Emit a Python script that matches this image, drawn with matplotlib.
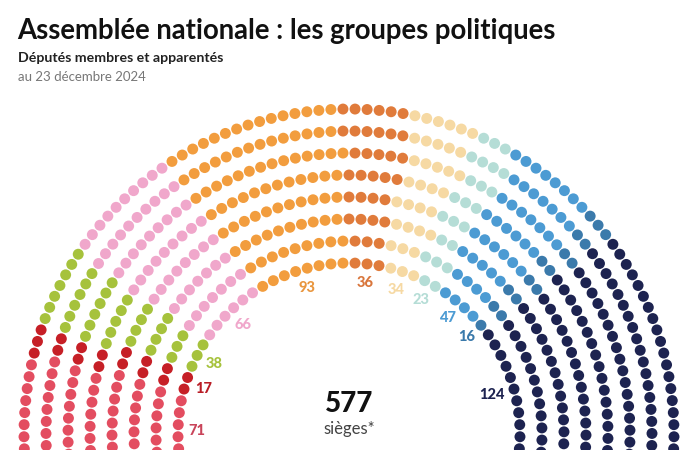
import numpy as np
import matplotlib.pyplot as plt

plt.rcParams['font.family'] = ['Lato', 'DejaVu Sans']

# groups, left to right
groups = ['LFI', 'GDR', 'EcoS', 'SOC', 'EPR', 'Dem', 'HOR', 'LIOT', 'DR', 'UDR', 'RN', 'NI']
seats = [71, 17, 38, 66, 93, 36, 34, 23, 47, 16, 124, 12]
colors = ['#e34d60', '#c61f26', '#a6c23c', '#f0a7cb', '#f29d3e', '#e07b3b',
          '#f6d9a3', '#b5ddd6', '#4c9bd3', '#3b7aab', '#1d2350', '#b5b5b5']
label_colors = ['#c9445a', '#b91d26', '#a6c23c', '#f0a7cb', '#e9963e', '#d9763c',
                '#f6d9a3', '#b5ddd6', '#4c9bd3', '#3b7aab', '#1d2350', '#b5b5b5']
show_label = [True] * 11 + [False]

total = sum(seats)
n_rows = 8
r_in, r_out = 171, 325
a_start, a_end = np.radians(189), np.radians(-9)

# seats per row proportional to radius (largest remainder)
radii = np.linspace(r_in, r_out, n_rows)
raw = total * radii / radii.sum()
per_row = np.floor(raw).astype(int)
rest = total - per_row.sum()
per_row[np.argsort(-(raw - per_row))[:rest]] += 1

xs, ys, angs, rr = [], [], [], []
for r, n in zip(radii, per_row):
    a = np.linspace(a_start, a_end, n)
    xs.extend(r * np.cos(a))
    ys.extend(r * np.sin(a))
    angs.extend(a)
    rr.extend([r] * n)
xs, ys, angs, rr = map(np.array, (xs, ys, angs, rr))
order = np.lexsort((rr, -angs))

seat_colors = np.empty(total, dtype=object)
group_idx = np.repeat(np.arange(len(seats)), seats)
seat_colors[order] = [colors[g] for g in group_idx]
seat_group = np.empty(total, dtype=int)
seat_group[order] = group_idx

fig = plt.figure(figsize=(7, 4.5), dpi=100)
ax = fig.add_axes([0, 0, 1, 1])
ax.set_xlim(-349, 351)
ax.set_ylim(-16, 434)
ax.axis('off')

ax.scatter(xs, ys, s=62, c=list(seat_colors), linewidths=0, zorder=2)

# labels at the inner row, middle of each group's inner seats
inner = rr == r_in
for g, (n, col) in enumerate(zip(seats, label_colors)):
    if not show_label[g]:
        continue
    a = angs[inner & (seat_group == g)]
    mid = (a.max() + a.min()) / 2
    lab = str(n)
    rl = 159 - 3.5 * len(lab)
    ax.text(rl * np.cos(mid), rl * np.sin(mid), lab, ha='center', va='center',
            fontsize=10.5, fontweight='black', color=col)

ax.text(0, 30, '577', ha='center', va='center', fontsize=20, fontweight='black', color='#111111')
ax.text(0, 5, 'sièges*', ha='center', va='center', fontsize=12, color='#444444')

fig.text(17 / 700, 1 - 31 / 450, 'Assemblée nationale : les groupes politiques',
         fontsize=19.8, fontweight='bold', color='#111111', va='center')
fig.text(18 / 700, 1 - 58 / 450, 'Députés membres et apparentés',
         fontsize=10.2, fontweight='bold', color='#222222', va='center')
fig.text(18 / 700, 1 - 77 / 450, 'au 23 décembre 2024',
         fontsize=9.5, color='#777777', va='center')

fig.savefig('out.png', dpi=100)
